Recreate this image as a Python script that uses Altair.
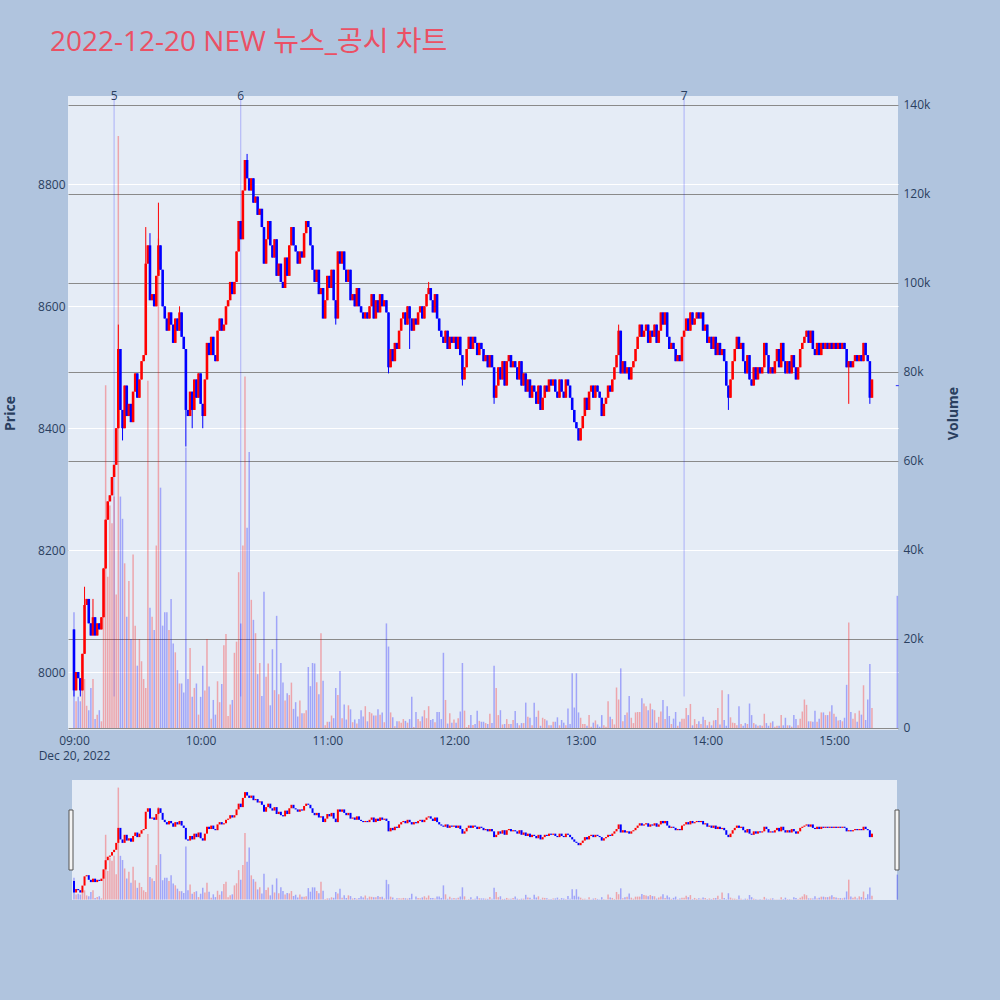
import altair as alt
import pandas as pd

TRADE_DAY = "2022-12-20"
CHART_TITLE = "2022-12-20 NEW 뉴스_공시 차트"
FIRST_OPEN = 8070

# one close per minute, 09:00 through 15:18
closes = [
    7970, 8000, 7990, 7970, 8030, 8110, 8120, 8080, 8060, 8090,
    8060, 8080, 8070, 8090, 8170, 8250, 8280, 8290, 8320, 8340,
    8400, 8530, 8430, 8400, 8470, 8420, 8440, 8410, 8460, 8490,
    8450, 8480, 8510, 8520, 8670, 8700, 8610, 8620, 8600, 8650,
    8700, 8660, 8600, 8580, 8560, 8590, 8570, 8540, 8580, 8560,
    8590, 8550, 8530, 8430, 8420, 8460, 8430, 8480, 8450, 8490,
    8440, 8420, 8480, 8540, 8520, 8550, 8520, 8510, 8560, 8580,
    8560, 8570, 8600, 8610, 8640, 8620, 8640, 8690, 8740, 8710,
    8790, 8840, 8810, 8790, 8810, 8770, 8780, 8750, 8760, 8730,
    8670, 8710, 8740, 8700, 8680, 8710, 8650, 8670, 8640, 8630,
    8680, 8650, 8700, 8730, 8700, 8690, 8670, 8690, 8680, 8720,
    8740, 8730, 8700, 8660, 8640, 8660, 8620, 8630, 8580, 8610,
    8650, 8630, 8660, 8610, 8580, 8690, 8670, 8690, 8660, 8640,
    8660, 8610, 8620, 8600, 8630, 8600, 8590, 8580, 8590, 8580,
    8600, 8620, 8580, 8610, 8590, 8620, 8600, 8610, 8590, 8500,
    8530, 8510, 8540, 8530, 8560, 8580, 8590, 8570, 8600, 8580,
    8560, 8580, 8570, 8590, 8600, 8580, 8600, 8620, 8630, 8610,
    8590, 8620, 8580, 8560, 8550, 8540, 8560, 8530, 8550, 8540,
    8550, 8530, 8550, 8520, 8480, 8500, 8530, 8550, 8530, 8550,
    8540, 8520, 8540, 8530, 8510, 8520, 8500, 8520, 8500, 8450,
    8470, 8500, 8480, 8510, 8470, 8510, 8520, 8500, 8510, 8500,
    8480, 8510, 8470, 8490, 8460, 8480, 8450, 8470, 8460, 8440,
    8470, 8430, 8450, 8470, 8460, 8480, 8470, 8480, 8460, 8450,
    8480, 8460, 8450, 8480, 8470, 8450, 8430, 8410, 8400, 8380,
    8400, 8420, 8450, 8430, 8460, 8470, 8450, 8470, 8460, 8450,
    8420, 8440, 8450, 8470, 8460, 8480, 8500, 8520, 8560, 8490,
    8510, 8490, 8500, 8480, 8500, 8510, 8530, 8550, 8570, 8550,
    8560, 8570, 8540, 8560, 8550, 8570, 8540, 8560, 8590, 8570,
    8590, 8550, 8530, 8540, 8530, 8510, 8520, 8510, 8550, 8560,
    8580, 8560, 8590, 8570, 8580, 8590, 8580, 8590, 8560, 8570,
    8540, 8550, 8530, 8550, 8520, 8540, 8520, 8530, 8510, 8470,
    8450, 8480, 8510, 8530, 8550, 8530, 8540, 8510, 8490, 8520,
    8480, 8470, 8500, 8480, 8500, 8490, 8500, 8540, 8520, 8490,
    8500, 8490, 8510, 8530, 8500, 8540, 8510, 8490, 8510, 8490,
    8520, 8500, 8480, 8500, 8530, 8540, 8550, 8560, 8540, 8560,
    8530, 8520, 8540, 8520, 8540, 8530, 8540, 8530, 8540, 8530,
    8540, 8530, 8540, 8530, 8540, 8530, 8500, 8510, 8500, 8510,
    8520, 8510, 8520, 8510, 8540, 8520, 8510, 8450, 8480,
]

# traded volume per minute, in thousands of shares
volume_k = [
    26.0, 6.0, 7.0, 6.0, 9.0, 11.0, 5.0, 4.0, 9.0, 11.0,
    2.0, 3.0, 4.0, 1.5, 36.0, 77.0, 34.0, 50.0, 46.0, 52.0,
    30.0, 133.0, 52.0, 47.0, 37.0, 25.0, 33.0, 20.0, 39.0, 23.0,
    14.0, 20.0, 15.0, 11.0, 9.0, 78.0, 27.0, 25.0, 22.0, 41.0,
    110.0, 54.0, 23.0, 26.0, 26.0, 22.0, 29.0, 19.0, 17.0, 13.0,
    10.0, 10.0, 8.0, 63.0, 11.0, 18.0, 7.0, 9.0, 10.0, 3.0,
    7.0, 14.0, 8.4, 20.0, 9.3, 2.1, 6.3, 3.0, 10.5, 5.8,
    9.9, 18.6, 21.1, 2.7, 5.3, 6.3, 16.9, 19.4, 35.0, 23.5,
    41.0, 79.0, 45.0, 62.0, 28.8, 24.3, 21.3, 12.1, 14.6, 7.2,
    30.6, 11.5, 14.5, 5.1, 17.7, 8.5, 25.2, 7.6, 14.6, 10.2,
    6.2, 7.8, 7.4, 10.2, 4.3, 5.8, 2.6, 6.2, 3.3, 3.3,
    4.0, 13.7, 9.4, 14.6, 14.5, 10.3, 7.6, 21.3, 10.6, 0.6,
    1.4, 1.4, 2.8, 2.2, 9.0, 7.4, 12.8, 2.2, 5.3, 1.9,
    5.1, 4.2, 1.3, 1.9, 1.0, 2.0, 4.0, 2.6, 4.9, 1.5,
    3.6, 3.3, 2.8, 2.8, 4.2, 3.0, 3.5, 1.3, 23.5, 18.3,
    3.5, 2.4, 0.4, 1.5, 1.5, 1.2, 2.0, 1.6, 1.2, 2.0,
    7.0, 0.2, 3.6, 2.0, 1.5, 2.6, 4.0, 2.2, 4.9, 1.8,
    2.0, 1.3, 3.6, 3.6, 2.0, 16.9, 6.3, 1.0, 3.3, 1.2,
    1.9, 1.2, 2.2, 3.7, 14.6, 3.9, 0.2, 0.7,
    2.9, 0.7, 0.9, 3.9, 1.6, 1.4, 1.4, 1.1, 0.9, 3.2,
    1.1, 14.0, 9.0, 2.9, 4.0, 0.8, 0.9, 2.0, 0.9, 0.9,
    1.8, 3.8, 1.1, 0.6, 1.1, 1.1, 5.7, 2.5, 2.3, 0.6,
    5.7, 2.5, 3.9, 0.5, 2.3, 2.0, 1.7, 0.6, 0.6, 1.4,
    1.4, 2.4, 0.6, 1.8, 1.2, 0.6, 4.4, 0.9, 12.3, 4.6,
    12.3, 3.5, 2.3, 0.9, 0.9, 0.5, 2.9, 0.3, 1.2, 1.7,
    0.8, 0.3, 2.9, 0.6, 0.3, 6.0, 2.5, 2.0, 0.8, 9.1,
    6.4, 13.4, 1.5, 2.9, 3.5, 7.2, 2.3, 1.1, 3.5, 3.6,
    3.6, 6.7, 5.5, 4.9, 4.0, 5.5, 4.2, 4.0, 1.2, 2.5,
    3.7, 6.3, 2.0, 4.9, 2.7, 0.9, 2.1, 3.6, 0.5, 1.4,
    2.1, 2.1, 4.5, 2.9, 5.4, 0.6, 2.0, 0.9, 1.5, 0.9,
    2.5, 1.8, 0.6, 1.4, 0.6, 1.7, 1.8, 4.5, 0.8, 8.5,
    1.8, 0.5, 7.6, 2.4, 1.2, 1.1, 0.6, 4.9, 0.9, 0.5,
    1.1, 0.9, 5.5, 2.9, 1.1, 0.8, 0.5, 0.6, 0.5, 3.2,
    1.1, 0.5, 1.2, 1.5, 0.3, 0.5, 0.5, 2.9, 0.6, 2.3,
    0.6, 0.6, 0.3, 2.9, 2.0, 0.6, 2.1, 3.7, 6.4, 5.2,
    1.5, 1.5, 1.4, 3.9, 1.4, 2.1, 3.5, 3.5, 2.9, 2.9,
    3.7, 5.1, 3.2, 2.5, 1.7, 1.8, 1.5, 2.3, 9.7, 23.7,
    3.6, 2.1, 3.3, 1.4, 3.9, 3.0, 9.6, 1.8, 6.4, 14.4,
    4.5,
]

# wick tips reaching past the candle body, keyed by minute index from 09:00
upper_tips = {5: 8140, 7: 8120, 9: 8120, 21: 8570, 34: 8730, 36: 8720,
              40: 8770, 50: 8600, 82: 8850, 168: 8640, 258: 8570}
lower_tips = {0: 7960, 3: 7960, 23: 8380, 53: 8370, 56: 8400, 61: 8400,
              124: 8570, 149: 8490, 159: 8530, 184: 8470, 199: 8440,
              239: 8380, 310: 8430, 367: 8440, 377: 8440}

# closing single-price auction
auction_time = "15:30"
auction_price = 8470
auction_volume_k = 29.7

# news / disclosure markers
news_times = ["09:19", "10:19", "13:49"]
news_ids = ["5", "6", "7"]

price_ticks = [8000, 8200, 8400, 8600, 8800]
volume_ticks = [0, 20000, 40000, 60000, 80000, 100000, 120000, 140000]
hour_ticks = [9, 10, 11, 12, 13, 14, 15]

UP, DOWN = "#FF0000", "#0000FF"
INK = "#2a3f5f"
PLOT_BG = "#E5ECF6"


def at(h, m, s=0):
    return alt.DateTime(year=2022, month=12, date=20, hours=h, minutes=m, seconds=s)


def stamp(hhmm):
    return f"{TRADE_DAY}T{hhmm}:00"


# ---- assemble the minute table ----
minutes = pd.date_range(f"{TRADE_DAY} 09:00", periods=len(closes), freq="min")
opens = [FIRST_OPEN] + closes[:-1]
rows = []
for i, (t, o, c, v) in enumerate(zip(minutes, opens, closes, volume_k)):
    rows.append({
        "time": t.strftime("%Y-%m-%dT%H:%M:%S"),
        "open": o, "close": c,
        "high": max(o, c, upper_tips.get(i, o)),
        "low": min(o, c, lower_tips.get(i, c)),
        "volume": v * 1000,
        "dir": "up" if c > o else "down",
    })
rows.append({"time": stamp(auction_time), "open": auction_price, "close": auction_price,
             "high": auction_price, "low": auction_price,
             "volume": auction_volume_k * 1000, "dir": "down"})
bars = pd.DataFrame(rows)

day_low = int(bars["low"].min())
news = pd.DataFrame({"time": [stamp(t) for t in news_times], "id": news_ids,
                     "low": [day_low] * len(news_ids)})

# ---- scales ----
x_scale = alt.Scale(domain=[at(8, 57, 10), at(15, 30, 20)], nice=False, padding=0)
price_dom = [7905, 8945]
vol_dom = [-450, 142000]
price_scale = alt.Scale(domain=price_dom, nice=False, zero=False, padding=0)
vol_scale = alt.Scale(domain=vol_dom, nice=False, zero=False, padding=0)
# range slider strip below the main panel (pixel rows relative to the plot top)
slider_price = alt.Scale(domain=price_dom, range=[804, 684], nice=False, zero=False)
slider_vol = alt.Scale(domain=vol_dom, range=[804, 684], nice=False, zero=False)
dir_color = alt.Color("dir:N", scale=alt.Scale(domain=["up", "down"], range=[UP, DOWN]), legend=None)

x_axis = alt.Axis(
    values=[at(h, 0) for h in hour_ticks],
    labelExpr="hours(datum.value) == 9 ? ['09:00', 'Dec 20, 2022'] : timeFormat(datum.value, '%H:%M')",
    grid=False, ticks=False, tickSize=0, domain=False, labelFlush=False,
    labelPadding=5, labelLineHeight=15, labelFontSize=12, labelColor=INK, title=None,
)
# every layer carries the same axis definition so the shared x axis survives the merge
x_enc = alt.X("time:T", scale=x_scale, axis=x_axis)

price_axis = alt.Axis(
    values=price_ticks, format="d", grid=True, gridColor="#FFFFFF", gridWidth=1,
    ticks=False, tickSize=0, domain=False, labelPadding=3, labelFontSize=12,
    labelColor=INK, title="Price", titleX=-58, titleY=317, titleAngle=270,
    titleAlign="center", titleBaseline="middle", titleFontSize=14,
    titleFontWeight="bold", titleColor=INK,
)
vol_axis = alt.Axis(
    orient="right", values=volume_ticks,
    labelExpr="datum.value == 0 ? '0' : format(datum.value / 1000, 'd') + 'k'",
    grid=True, gridColor="#8a8a8a", gridWidth=1, ticks=False, tickSize=0, domain=False,
    labelPadding=5, labelFontSize=12, labelColor=INK, title="Volume",
    titleX=55, titleY=317, titleAngle=270, titleAlign="center",
    titleBaseline="middle", titleFontSize=14, titleFontWeight="bold", titleColor=INK,
)

base = alt.Chart(bars)
one_row = pd.DataFrame({"label": [CHART_TITLE]})

# ---- range slider ----
slider_bg = alt.Chart(one_row).mark_rect(color=PLOT_BG).encode(
    x=alt.value(4), x2=alt.value(829), y=alt.value(684), y2=alt.value(804))
slider_volume = base.mark_bar(size=1.5, opacity=0.3).encode(
    x=x_enc, y=alt.Y("volume:Q", scale=slider_vol, axis=None), color=dir_color)
slider_candles = base.mark_bar(size=2).encode(
    x=x_enc, y=alt.Y("open:Q", scale=slider_price, axis=None), y2="close:Q", color=dir_color)
handle_style = dict(fill="#f4f4f4", stroke="#555555", strokeWidth=1)
left_handle = alt.Chart(one_row).mark_rect(**handle_style).encode(
    x=alt.value(1), x2=alt.value(5), y=alt.value(714), y2=alt.value(774))
right_handle = alt.Chart(one_row).mark_rect(**handle_style).encode(
    x=alt.value(827), x2=alt.value(831), y=alt.value(714), y2=alt.value(774))

# ---- main panel ----
volume_bars = base.mark_bar(size=1.5, opacity=0.3).encode(
    x=x_enc, y=alt.Y("volume:Q", scale=vol_scale, axis=vol_axis), color=dir_color)
news_lines = alt.Chart(news).mark_rule(color=DOWN, opacity=0.25, strokeWidth=1).encode(
    x=x_enc, y=alt.Y("low:Q", scale=price_scale, axis=None), y2=alt.value(0))
wicks = base.mark_rule(strokeWidth=1).encode(
    x=x_enc, y=alt.Y("low:Q", scale=price_scale, axis=None), y2="high:Q", color=dir_color)
bodies = base.mark_bar(size=2.6).encode(
    x=x_enc, y=alt.Y("open:Q", scale=price_scale, axis=price_axis), y2="close:Q", color=dir_color)
flat = base.transform_filter("datum.open == datum.close").mark_tick(
    orient="horizontal", size=3, thickness=1.2).encode(
    x=x_enc, y=alt.Y("close:Q", scale=price_scale, axis=None), color=dir_color)
news_text = alt.Chart(news).mark_text(baseline="middle", fontSize=12, color=INK).encode(
    x=x_enc, y=alt.value(0), text="id:N")
title = alt.Chart(one_row).mark_text(
    align="left", baseline="alphabetic", fontSize=28, color="#EB5064",
    font="Open Sans, Noto Sans CJK KR, sans-serif").encode(
    x=alt.value(-18), y=alt.value(-45), text="label:N")

chart = alt.layer(
    slider_bg, slider_volume, slider_candles, left_handle, right_handle,
    volume_bars, news_lines, wicks, bodies, flat, news_text, title,
).resolve_scale(y="independent").properties(
    width=830, height=634, background="#B0C4DE",
    padding={"left": 68, "top": 96, "right": 102, "bottom": 270},
    autosize=alt.AutoSizeParams(type="none"),
).configure(font="Open Sans").configure_view(fill=PLOT_BG, strokeWidth=0)

chart.save("out.html", embed_options={"renderer": "svg", "actions": False})
